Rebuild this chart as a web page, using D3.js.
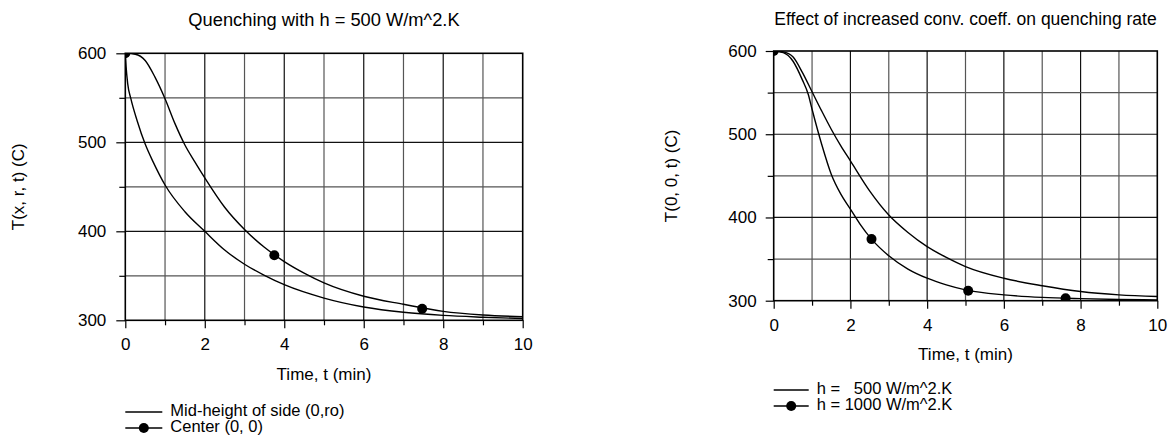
<!DOCTYPE html>
<html><head><meta charset="utf-8">
<script src="https://cdn.jsdelivr.net/npm/d3@7"></script>
<style>
body{margin:0;background:#fff;}
svg text{font-family:"Liberation Sans",Arial,sans-serif;fill:#000;}
</style></head>
<body><svg id="c" width="1171" height="442"></svg>
<script>
// ---------- data ----------
const leftTitle = "Quenching with h = 500 W/m^2.K";
const rightTitle = "Effect of increased conv. coeff. on quenching rate";
const xLabel = "Time, t (min)";
const leftYLabel = "T(x, r, t) (C)";
const rightYLabel = "T(0, 0, t) (C)";
const xTicks = [0, 2, 4, 6, 8, 10];
const yTicks = [300, 400, 500, 600];

// Left chart: mid-height of side (0, ro)
const sideT = [0, 0.02, 0.06, 0.14, 0.3, 0.5, 0.7, 1, 1.5, 2, 2.5, 3, 3.5, 4, 5, 6, 7, 8, 9, 10];
const sideTemp = [600, 585, 566, 549, 524, 498, 478, 452, 422, 400, 379, 363, 350.5, 340, 325, 315, 309, 305.5, 303.5, 302];
// Left chart: center (0, 0)
const centerT = [0, 0.25, 0.5, 0.75, 1, 1.25, 1.5, 1.75, 2, 2.5, 3, 3.5, 4, 4.5, 5, 6, 7, 8, 9, 10];
const centerTemp = [600, 599, 592, 573, 549, 521, 497, 478, 460, 427, 402, 382, 366, 353, 342, 327, 318, 310, 306, 304];
const centerMarkT = [0, 3.75, 7.47];
const centerMarkTemp = [600, 373, 313];

// Right chart: h = 500
const h500T = [0, 0.25, 0.5, 0.75, 1, 1.25, 1.5, 1.75, 2, 2.5, 3, 3.5, 4, 4.5, 5, 6, 7, 8, 9, 10];
const h500Temp = [600, 599, 593, 574, 551, 528, 506, 486, 468, 432, 403, 382, 365, 352, 341, 327, 318, 311, 307, 305];
// Right chart: h = 1000
const h1000T = [0, 0.25, 0.5, 0.75, 0.9, 1.0, 1.25, 1.5, 1.75, 2, 2.25, 2.55, 3, 3.5, 4, 4.5, 5, 6, 7, 8, 9, 10];
const h1000Temp = [600, 598, 588, 565, 548, 530, 488, 452, 428, 410, 392, 374, 354, 338, 327, 319, 313, 307, 304, 302.5, 301.5, 301];
const h1000MarkT = [0, 2.55, 5.07, 7.61];
const h1000MarkTemp = [600, 374, 312, 303];

const leftLegend = ["Mid-height of side (0,ro)", "Center (0, 0)"];
const rightLegend = ["h =   500 W/m^2.K", "h = 1000 W/m^2.K"];

// ---------- drawing ----------
const svg = d3.select("#c");
const FS = 17;

function zip(a, b){ return a.map((v,i)=>[v,b[i]]); }

function panel(cfg){
  const g = svg.append("g");
  const x = d3.scaleLinear().domain([0,10]).range([cfg.x0, cfg.x1]);
  const y = d3.scaleLinear().domain([300,600]).range([cfg.y0, cfg.y1]);
  const id = "clip"+cfg.id;
  svg.append("clipPath").attr("id", id).append("rect")
    .attr("x", cfg.x0).attr("y", cfg.y1).attr("width", cfg.x1-cfg.x0).attr("height", cfg.y0-cfg.y1);

  // grid
  const gx = d3.range(1,10), gy = d3.range(350,600,50);
  g.selectAll(".vg").data(gx).join("line")
    .attr("x1", d=>x(d)).attr("x2", d=>x(d)).attr("y1", cfg.y0).attr("y2", cfg.y1)
    .attr("stroke", d=> d%2===0 ? "#111" : "#555").attr("stroke-width",1.2);
  g.selectAll(".hg").data(gy).join("line")
    .attr("y1", d=>y(d)).attr("y2", d=>y(d)).attr("x1", cfg.x0).attr("x2", cfg.x1)
    .attr("stroke", d=> d%100===0 ? "#111" : "#555").attr("stroke-width",1.2);

  // axes
  g.append("g").attr("transform", `translate(0,${cfg.y0})`)
    .call(d3.axisBottom(x).tickValues(xTicks).tickSize(8).tickPadding(10).tickFormat(d3.format("d")));
  g.append("g").attr("transform", `translate(0,${cfg.y0})`)
    .call(d3.axisBottom(x).tickValues([1,3,5,7,9]).tickSize(5).tickFormat(""));
  g.append("g").attr("transform", `translate(${cfg.x0},0)`)
    .call(d3.axisLeft(y).tickValues(yTicks).tickSize(cfg.ytick).tickPadding(cfg.ypad).tickFormat(d3.format("d")));
  g.append("g").attr("transform", `translate(${cfg.x0},0)`)
    .call(d3.axisLeft(y).tickValues([350,450,550]).tickSize(6).tickFormat(""));
  g.selectAll(".domain").remove();
  g.selectAll(".tick line").attr("stroke","#000").attr("stroke-width",1.2);
  g.selectAll(".tick text").style("font-size", FS+"px").style("font-family","Liberation Sans, Arial, sans-serif");

  // frame
  g.append("rect").attr("x", cfg.x0).attr("y", cfg.y1).attr("width", cfg.x1-cfg.x0).attr("height", cfg.y0-cfg.y1)
    .attr("fill","none").attr("stroke","#000").attr("stroke-width",1.6);

  // lines
  const line = d3.line().x(d=>x(d[0])).y(d=>y(d[1])).curve(d3.curveMonotoneX);
  const cg = g.append("g").attr("clip-path", `url(#${id})`);
  cfg.series.forEach(s=>{
    cg.append("path").attr("d", line(zip(s.t, s.v))).attr("fill","none").attr("stroke","#000").attr("stroke-width",1.4);
    if (s.mt) cg.selectAll(null).data(zip(s.mt, s.mv)).join("circle")
      .attr("cx", d=>x(d[0])).attr("cy", d=>y(d[1])).attr("r",5).attr("fill","#000");
  });

  // titles
  const cx = (cfg.x0+cfg.x1)/2;
  g.append("text").attr("x", cx).attr("y", cfg.titleY).attr("text-anchor","middle").style("font-size", cfg.titleFS+"px").text(cfg.title);
  g.append("text").attr("x", cx).attr("y", cfg.y0+55).attr("text-anchor","middle").attr("dominant-baseline","middle")
    .style("font-size", FS+"px").text(xLabel);
  g.append("text").attr("transform", `translate(${cfg.ylx},${(cfg.y0+cfg.y1)/2}) rotate(-90)`)
    .attr("text-anchor","middle").attr("dominant-baseline","middle").style("font-size", FS+"px").text(cfg.ylabel);

  // legend
  cfg.legend.forEach((txt,i)=>{
    const ly = cfg.legY + i*cfg.legDy;
    g.append("line").attr("x1", cfg.x0).attr("x2", cfg.x0+cfg.legLen).attr("y1", ly).attr("y2", ly)
      .attr("stroke","#000").attr("stroke-width",1.4);
    if (i===1) g.append("circle").attr("cx", cfg.x0+cfg.legLen/2).attr("cy", ly).attr("r",5).attr("fill","#000");
    g.append("text").attr("x", cfg.x0+cfg.legLen+8).attr("y", ly).attr("dominant-baseline","middle")
      .style("font-size", "16.5px").style("white-space","pre").attr("xml:space","preserve").text(txt);
  });
}

panel({id:"L", x0:125.3, x1:522.7, y0:320.3, y1:53.3, ytick:9, ypad:10, titleY:26, titleFS:18.3, ylx:20,
  title:leftTitle, ylabel:leftYLabel, legend:leftLegend, legY:412, legDy:16, legLen:37,
  series:[{t:sideT, v:sideTemp},{t:centerT, v:centerTemp, mt:centerMarkT, mv:centerMarkTemp}]});
panel({id:"R", x0:773.7, x1:1157.3, y0:300.7, y1:51, ytick:8, ypad:9, titleY:25, titleFS:17.5, ylx:673,
  title:rightTitle, ylabel:rightYLabel, legend:rightLegend, legY:390, legDy:16, legLen:35,
  series:[{t:h500T, v:h500Temp},{t:h1000T, v:h1000Temp, mt:h1000MarkT, mv:h1000MarkTemp}]});
</script></body></html>
